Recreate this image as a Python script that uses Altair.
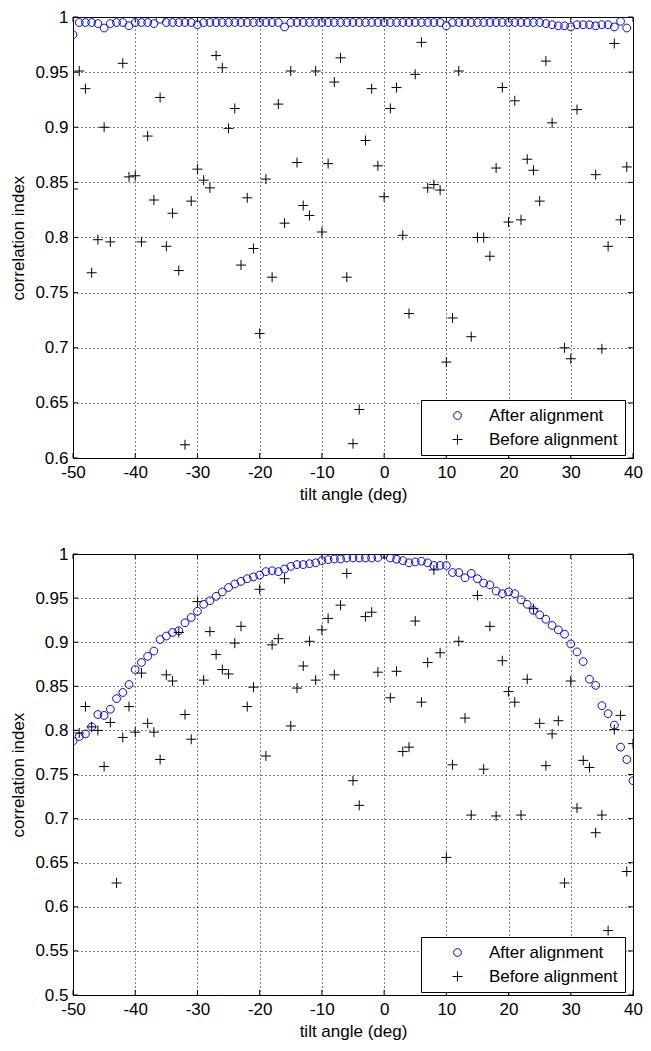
import altair as alt
import pandas as pd

series_names = ["After alignment", "Before alignment"]
x_ticks = [-50, -40, -30, -20, -10, 0, 10, 20, 30, 40]
y_ticks_top = [0.6, 0.65, 0.7, 0.75, 0.8, 0.85, 0.9, 0.95, 1]
y_ticks_bottom = [0.5, 0.55, 0.6, 0.65, 0.7, 0.75, 0.8, 0.85, 0.9, 0.95, 1]

# ---------- top panel ----------
top_after_angles = list(range(-50, 40))
top_after = [
    0.984, 0.995, 0.995, 0.995, 0.994, 0.990, 0.994, 0.995, 0.995, 0.992,
    0.995, 0.995, 0.995, 0.994, 0.998, 0.995, 0.995, 0.995, 0.995, 0.995,
    0.993, 0.995, 0.995, 0.995, 0.995, 0.995, 0.995, 0.995, 0.995, 0.995,
    0.995, 0.995, 0.995, 0.995, 0.991, 0.995, 0.995, 0.995, 0.995, 0.995,
    0.995, 0.995, 0.995, 0.995, 0.995, 0.995, 0.995, 0.995, 0.995, 0.995,
    0.995, 0.995, 0.995, 0.995, 0.995, 0.995, 0.995, 0.995, 0.995, 0.995,
    0.992, 0.995, 0.995, 0.995, 0.995, 0.995, 0.995, 0.995, 0.995, 0.995,
    0.995, 0.995, 0.995, 0.995, 0.995, 0.995, 0.994, 0.993, 0.992, 0.992,
    0.991, 0.993, 0.993, 0.993, 0.992, 0.993, 0.993, 0.991, 0.996, 0.990,
]
top_before_angles = [
    -50, -49, -48, -47, -46, -45, -44, -42, -41, -40, -39, -38, -37, -36, -35,
    -34, -33, -32, -31, -30, -29, -28, -27, -26, -25, -24, -23, -22, -21, -20,
    -19, -18, -17, -16, -15, -14, -13, -12, -11, -10, -9, -8, -7, -6, -5,
    -4, -3, -2, -1, 0, 1, 2, 3, 4, 5, 6, 7, 8, 9, 10,
    11, 12, 14, 15, 16, 17, 18, 19, 20, 21, 22, 23, 24, 25, 26,
    27, 29, 30, 31, 34, 35, 36, 37, 38, 39,
]
top_before = [
    0.844, 0.951, 0.935, 0.768, 0.798, 0.900, 0.796, 0.958, 0.855, 0.856, 0.796, 0.892, 0.834, 0.927, 0.792,
    0.822, 0.770, 0.612, 0.833, 0.862, 0.852, 0.845, 0.965, 0.954, 0.899, 0.917, 0.775, 0.836, 0.790, 0.713,
    0.853, 0.764, 0.921, 0.813, 0.951, 0.868, 0.829, 0.820, 0.951, 0.805, 0.867, 0.941, 0.963, 0.764, 0.613,
    0.644, 0.888, 0.935, 0.865, 0.837, 0.917, 0.936, 0.802, 0.731, 0.948, 0.977, 0.845, 0.848, 0.843, 0.687,
    0.727, 0.951, 0.710, 0.800, 0.800, 0.783, 0.863, 0.936, 0.814, 0.924, 0.816, 0.871, 0.861, 0.833, 0.960,
    0.904, 0.700, 0.690, 0.916, 0.857, 0.699, 0.792, 0.976, 0.816, 0.864,
]

# ---------- bottom panel ----------
bottom_angles = list(range(-50, 41))
bottom_after = [
    0.788, 0.793, 0.796, 0.804, 0.818, 0.817, 0.824, 0.836, 0.843, 0.852,
    0.869, 0.877, 0.884, 0.890, 0.903, 0.907, 0.911, 0.913, 0.922, 0.928,
    0.935, 0.943, 0.947, 0.952, 0.957, 0.962, 0.966, 0.969, 0.972, 0.974,
    0.976, 0.980, 0.981, 0.980, 0.983, 0.986, 0.988, 0.988, 0.989, 0.990,
    0.9925, 0.9936, 0.9944, 0.9944, 0.9955, 0.9955, 0.9955, 0.9955, 0.9955, 0.996,
    1.000, 0.9955, 0.994, 0.9925, 0.990, 0.991, 0.9918, 0.990, 0.987, 0.987,
    0.987, 0.979, 0.979, 0.973, 0.978, 0.972, 0.967, 0.965, 0.958, 0.955,
    0.957, 0.955, 0.948, 0.943, 0.936, 0.931, 0.926, 0.919, 0.914, 0.909,
    0.898, 0.889, 0.878, 0.858, 0.851, 0.828, 0.819, 0.806, 0.781, 0.767,
    0.743,
]
bottom_before = [
    0.800, 0.797, 0.827, 0.804, 0.800, 0.759, 0.809, 0.627, 0.792, 0.827,
    0.798, 0.865, 0.808, 0.798, 0.767, 0.863, 0.856, 0.911, 0.818, 0.790,
    0.946, 0.857, 0.912, 0.886, 0.869, 0.864, 0.899, 0.918, 0.827, 0.849,
    0.960, 0.771, 0.897, 0.904, 0.972, 0.805, 0.848, 0.873, 0.901, 0.857,
    0.914, 0.927, 0.863, 0.942, 0.978, 0.743, 0.715, 0.929, 0.934, 0.866,
    1.000, 0.837, 0.867, 0.776, 0.781, 0.924, 0.832, 0.877, 0.982, 0.888,
    0.656, 0.761, 0.901, 0.814, 0.704, 0.953, 0.756, 0.918, 0.703, 0.879,
    0.844, 0.832, 0.704, 0.858, 0.938, 0.808, 0.760, 0.796, 0.811, 0.627,
    0.856, 0.712, 0.766, 0.758, 0.684, 0.704, 0.573, 0.801, 0.817, 0.640,
    0.785,
]


def frame(a_ang, a_val, b_ang, b_val):
    after = pd.DataFrame({"angle": a_ang, "value": a_val, "series": series_names[0]})
    before = pd.DataFrame({"angle": b_ang, "value": b_val, "series": series_names[1]})
    return pd.concat([after, before], ignore_index=True)


CIRCLE = "M0.78,0A0.78,0.78,0,1,1,-0.78,0A0.78,0.78,0,1,1,0.78,0Z"
PLUS = "M-1,0H1M0,-1V1"
W, H = 560, 441
TL = 5  # inward tick length


def panel(df, ydom, yticks):
    legend = alt.Legend(
        title=None, orient="none", legendX=W - 212, legendY=H - 58,
        fillColor="white", strokeColor="black", padding=7,
        symbolOffset=21, labelOffset=23, rowPadding=6,
        labelFontSize=17, labelFont="Liberation Sans", labelColor="black",
        symbolStrokeWidth=1, symbolSize=100,
    )
    xs = alt.Scale(domain=[-50, 40], nice=False, zero=False)
    ys = alt.Scale(domain=ydom, nice=False, zero=False)
    xaxis = alt.Axis(values=x_ticks, title="tilt angle (deg)", labelExpr="datum.value + ''")
    yaxis = alt.Axis(values=yticks, title="correlation index", labelExpr="datum.value + ''")

    pts = alt.Chart(df).mark_point(filled=False, size=100, strokeWidth=1, opacity=1, clip=True).encode(
        x=alt.X("angle:Q", scale=xs, axis=xaxis),
        y=alt.Y("value:Q", scale=ys, axis=yaxis),
        color=alt.Color("series:N",
                        scale=alt.Scale(domain=series_names, range=["#0000ff", "#000000"]),
                        legend=legend),
        shape=alt.Shape("series:N",
                        scale=alt.Scale(domain=series_names, range=[CIRCLE, PLUS]),
                        legend=legend),
    )
    xt = pd.DataFrame({"angle": x_ticks})
    yt = pd.DataFrame({"value": yticks})
    xt_bottom = alt.Chart(xt).mark_rule(color="black", strokeWidth=1).encode(
        x=alt.X("angle:Q", scale=xs, axis=xaxis), y=alt.value(H), y2=alt.value(H - TL))
    xt_top = alt.Chart(xt).mark_rule(color="black", strokeWidth=1).encode(
        x=alt.X("angle:Q", scale=xs, axis=xaxis), y=alt.value(0), y2=alt.value(TL))
    yt_left = alt.Chart(yt).mark_rule(color="black", strokeWidth=1).encode(
        y=alt.Y("value:Q", scale=ys, axis=yaxis), x=alt.value(0), x2=alt.value(TL))
    yt_right = alt.Chart(yt).mark_rule(color="black", strokeWidth=1).encode(
        y=alt.Y("value:Q", scale=ys, axis=yaxis), x=alt.value(W), x2=alt.value(W - TL))
    return alt.layer(xt_bottom, xt_top, yt_left, yt_right, pts).properties(width=W, height=H)


top = panel(frame(top_after_angles, top_after, top_before_angles, top_before), [0.6, 1], y_ticks_top)
bottom = panel(frame(bottom_angles, bottom_after, bottom_angles, bottom_before), [0.5, 1], y_ticks_bottom)

chart = alt.vconcat(top, bottom, spacing=41).resolve_scale(
    color="independent", shape="independent"
).properties(
    padding={"left": 1, "top": -1, "right": 0, "bottom": 0}, background="white"
).configure(font="Liberation Sans").configure_axis(
    domainColor="black", domainWidth=1, labelFlush=False,
    grid=True, gridColor="black", gridDash=[1, 3], gridOpacity=1, gridWidth=1,
    ticks=False, labelColor="black", labelFont="Liberation Sans", labelFontSize=17,
    titleColor="black", titleFont="Liberation Sans", titleFontSize=17, titleFontWeight="normal",
).configure_axisX(labelPadding=6, titlePadding=6).configure_axisY(
    labelPadding=5, titlePadding=7
).configure_view(stroke="black", strokeWidth=1)

chart.save("out.html", embed_options={"renderer": "svg", "actions": False})
